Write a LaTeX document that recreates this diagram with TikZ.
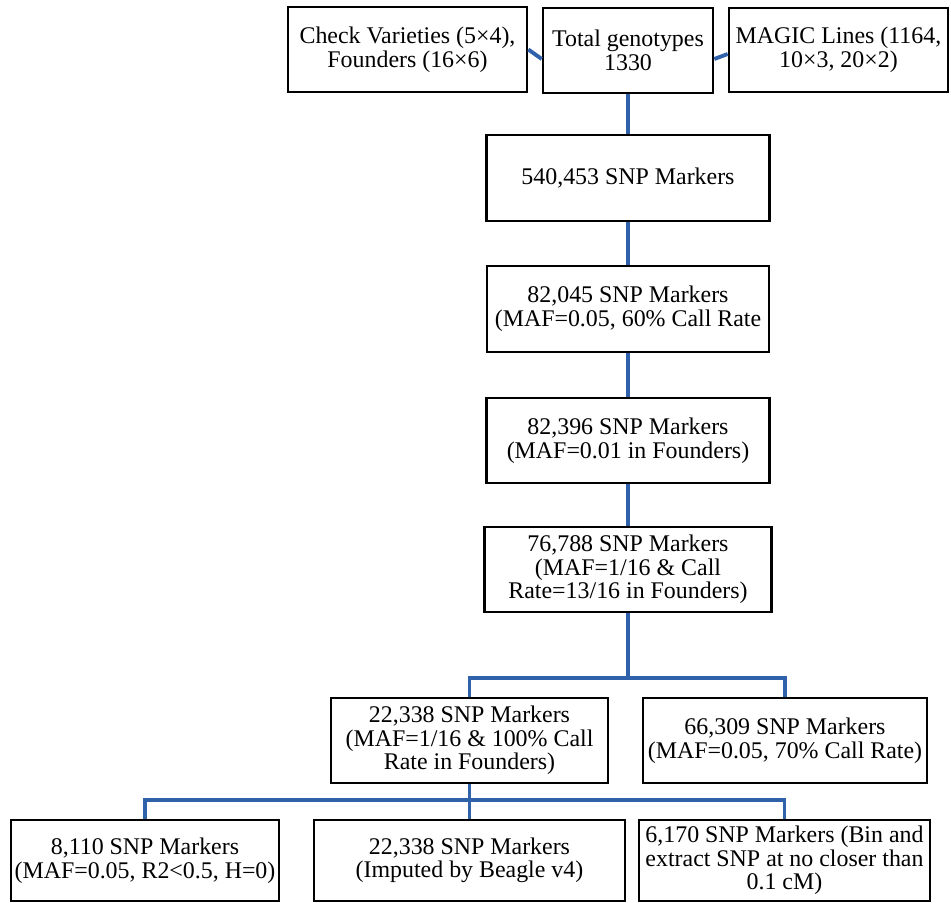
\documentclass[tikz,border=0pt]{standalone}
\usepackage{fontspec}
\setmainfont{Liberation Serif}
\usepackage{tikz}
\usetikzlibrary{positioning,calc}
\usepackage{xcolor}
\definecolor{linkblue}{RGB}{47,98,170}
\tikzstyle{link} = [line width=2.2pt, color=linkblue]
\tikzstyle{snpbox} = [rectangle, draw=black, line width=1.5pt, fill=white, align=center, inner sep=0.5pt, minimum height=1.7cm, font=\fontsize{13.6}{13.4}\selectfont]

\begin{document}
\begin{tikzpicture}[x=0.02cm, y=-0.02cm]
\useasboundingbox (0,0) rectangle (951,903);

% Top row
\node[snpbox, minimum width=4.78cm] (check) at (407.5, 49.5) {Check Varieties (5×4),\\Founders (16×6)};
\node[snpbox, minimum width=3.40cm] (total) at (628, 50.5) {Total genotypes\\1330};
\node[snpbox, minimum width=4.38cm, minimum height=1.68cm] (magic) at (838.5, 50) {MAGIC Lines (1164,\\10×3, 20×2)};

% Filtering steps
\node[snpbox, minimum width=5.66cm, minimum height=1.72cm] (m540) at (628, 178) {540,453 SNP Markers};
\node[snpbox, minimum width=5.64cm, minimum height=1.72cm] (m82a) at (628, 309) {82,045 SNP Markers\\(MAF=0.05, 60\% Call Rate};
\node[snpbox, minimum width=5.66cm] (m82b) at (628, 440.5) {82,396 SNP Markers\\(MAF=0.01 in Founders)};
\node[snpbox, minimum width=5.74cm] (m76) at (628, 569.5) {76,788 SNP Markers\\(MAF=1/16 \& Call\\Rate=13/16 in Founders)};

% First split
\node[snpbox, minimum width=5.54cm] (m22) at (469.5, 740.5) {22,338 SNP Markers\\(MAF=1/16 \& 100\% Call\\Rate in Founders)};
\node[snpbox, minimum width=5.68cm] (m66) at (785, 740.5) {66,309 SNP Markers\\(MAF=0.05, 70\% Call Rate)};

% Second split
\node[snpbox, minimum width=5.36cm, minimum height=1.62cm] (m8) at (145, 860.5) {8,110 SNP Markers\\(MAF=0.05, R2<0.5, H=0)};
\node[snpbox, minimum width=6.22cm, minimum height=1.62cm] (m22b) at (469.5, 860.5) {22,338 SNP Markers\\(Imputed by Beagle v4)};
\node[snpbox, minimum width=5.82cm, minimum height=1.62cm] (m6) at (784.5, 860.5) {6,170 SNP Markers (Bin and\\extract SNP at no closer than\\0.1 cM)};

\coordinate (split1) at (628, 678);
\coordinate (split2) at (469.5, 800);

% Links
\draw[link] (check.east) -- ([yshift=-0.17cm]total.west);
\draw[link] ([yshift=-0.17cm]total.east) -- ([yshift=-0.08cm]magic.west);
\draw[link] (total) -- (m540);
\draw[link] (m540) -- (m82a);
\draw[link] (m82a) -- (m82b);
\draw[link] (m82b) -- (m76);
\draw[link] (m76) -- (split1);
\draw[link] (m22.north) |- (split1) -| (m66.north);
\draw[link] (m22.south) -- (split2);
\draw[link] (m8.north) |- (split2) -| (m6.north);
\draw[link] (split2) -- (m22b);
\end{tikzpicture}
\end{document}
